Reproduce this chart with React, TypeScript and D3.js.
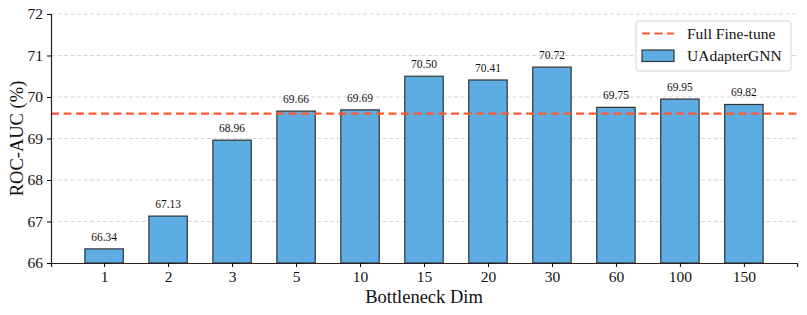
import React, { useEffect, useRef } from 'react';
import * as d3 from 'd3';

const dims = ['1', '2', '3', '5', '10', '15', '20', '30', '60', '100', '150'];
const rocAuc = [66.34, 67.13, 68.96, 69.66, 69.69, 70.5, 70.41, 70.72, 69.75, 69.95, 69.82];
const fullFineTune = 69.6;
const yTicks = [66, 67, 68, 69, 70, 71, 72];

const App = () => {
  const ref = useRef<SVGSVGElement>(null);

  useEffect(() => {
    const svg = d3.select(ref.current);
    svg.selectAll('*').remove();

    const width = 807;
    const height = 315;
    const margin = { top: 14, right: 10, bottom: 52, left: 51 };
    const font = '"Liberation Serif", "Times New Roman", serif';

    svg.attr('width', width).attr('height', height).style('font-family', font);

    // matplotlib-like: bars 0.6 wide, 5% margins
    const x = d3.scaleLinear()
      .domain([-0.83, dims.length - 1 + 0.83])
      .range([margin.left, width - margin.right]);
    const barW = x(0.6) - x(0);

    const y = d3.scaleLinear()
      .domain([66, 72])
      .range([height - margin.bottom, margin.top]);

    // Grid
    svg.append('g')
      .selectAll('line')
      .data(yTicks.slice(1))
      .join('line')
      .attr('x1', margin.left)
      .attr('x2', width - margin.right)
      .attr('y1', d => y(d))
      .attr('y2', d => y(d))
      .attr('stroke', '#cccccc')
      .attr('stroke-width', 0.8)
      .attr('stroke-dasharray', '4,2.5');

    // Bars
    svg.append('g')
      .selectAll('rect')
      .data(rocAuc)
      .join('rect')
      .attr('x', (d, i) => x(i) - barW / 2)
      .attr('y', d => y(d))
      .attr('width', barW)
      .attr('height', d => y(66) - y(d))
      .attr('fill', '#5dade2')
      .attr('stroke', '#333333')
      .attr('stroke-width', 1.2);

    // Value labels
    svg.append('g')
      .selectAll('text')
      .data(rocAuc)
      .join('text')
      .attr('x', (d, i) => x(i))
      .attr('y', d => y(d) - 8)
      .attr('text-anchor', 'middle')
      .style('font-size', '11.5px')
      .attr('fill', '#111')
      .text(d => d.toFixed(2));

    // Full fine-tune line
    svg.append('line')
      .attr('x1', margin.left)
      .attr('x2', width - margin.right)
      .attr('y1', y(fullFineTune))
      .attr('y2', y(fullFineTune))
      .attr('stroke', '#ff5733')
      .attr('stroke-width', 2.2)
      .attr('stroke-dasharray', '8,4.5');

    // Axes
    const yAxis = svg.append('g')
      .attr('transform', `translate(${margin.left},0)`)
      .call(d3.axisLeft(y).tickValues(yTicks).tickFormat(d3.format('d')).tickSize(4).tickPadding(4));
    yAxis.select('.domain').attr('stroke', '#222').attr('stroke-width', 1.2);
    yAxis.selectAll('text').style('font-size', '15.5px').style('font-family', font).attr('fill', '#111');

    const xAxis = svg.append('g')
      .attr('transform', `translate(0,${height - margin.bottom})`)
      .call(d3.axisBottom(x).tickValues(d3.range(dims.length)).tickFormat((d, i) => dims[i]).tickSize(4).tickPadding(4));
    xAxis.select('.domain').attr('stroke', '#222').attr('stroke-width', 1.2);
    xAxis.selectAll('text').style('font-size', '15.5px').style('font-family', font).attr('fill', '#111');

    // Axis titles
    svg.append('text')
      .attr('x', (margin.left + width - margin.right) / 2)
      .attr('y', 303)
      .attr('text-anchor', 'middle')
      .style('font-size', '18.5px')
      .attr('fill', '#111')
      .text('Bottleneck Dim');

    svg.append('text')
      .attr('transform', `translate(23,${(margin.top + height - margin.bottom) / 2}) rotate(-90)`)
      .attr('text-anchor', 'middle')
      .style('font-size', '18.5px')
      .attr('fill', '#111')
      .text('ROC-AUC (%)');

    // Legend
    const lg = svg.append('g').attr('transform', 'translate(636,21)');
    lg.append('rect')
      .attr('width', 155)
      .attr('height', 50)
      .attr('rx', 3)
      .attr('fill', 'white')
      .attr('fill-opacity', 0.85)
      .attr('stroke', '#d5d5d5');
    lg.append('line')
      .attr('x1', 6).attr('x2', 38).attr('y1', 12.5).attr('y2', 12.5)
      .attr('stroke', '#ff5733').attr('stroke-width', 2.2).attr('stroke-dasharray', '8,4.5');
    lg.append('text').attr('x', 51).attr('y', 17.5).style('font-size', '15.5px').attr('fill', '#111').text('Full Fine-tune');
    lg.append('rect')
      .attr('x', 6).attr('y', 29).attr('width', 32).attr('height', 11.5)
      .attr('fill', '#5dade2').attr('stroke', '#333').attr('stroke-width', 1.2);
    lg.append('text').attr('x', 51).attr('y', 39.5).style('font-size', '15.5px').attr('fill', '#111').text('UAdapterGNN');
  }, []);

  return <svg ref={ref} style={{ position: 'absolute', left: 0, top: 0 }}></svg>;
};

export default App;
